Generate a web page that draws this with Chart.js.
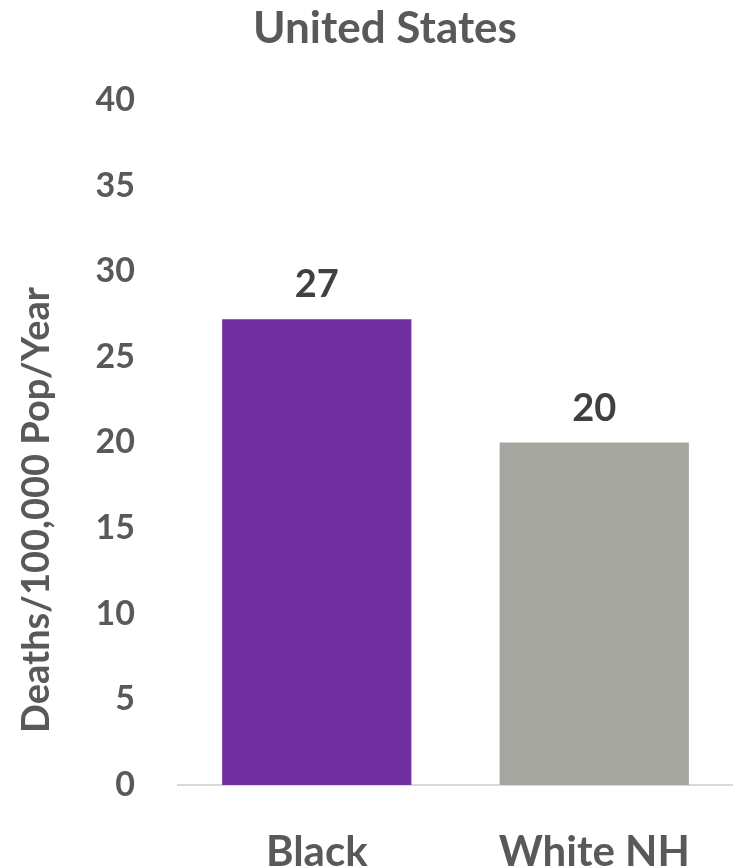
<!DOCTYPE html>
<html>
<head>
<meta charset="utf-8">
<script src="https://cdn.jsdelivr.net/npm/chart.js@4/dist/chart.umd.min.js"></script>
<style>
  body { margin: 0; background: #fff; overflow: hidden; }
  canvas { display: block; }
</style>
</head>
<body>
<canvas id="graph" width="733" height="868"></canvas>
<script>
// ------------ data -----------------------
var categories = ["Black", "White NH"];
var rates = [27.2, 20];
var barColors = ["#7030A0", "#A6A6A0"];
var yTicks = [0, 5, 10, 15, 20, 25, 30, 35, 40];
var chartTitle = "United States";
var yTitle = "Deaths/100,000 Pop/Year";

var textGray = "#595959";
var fontFam = "Lato, 'Open Sans', sans-serif";

// ------------ title, axis title, value labels ----
var extraText = {
  id: "extraText",
  afterDraw: function (chart) {
    var ctx = chart.ctx;
    var meta = chart.getDatasetMeta(0);
    ctx.save();
    ctx.textAlign = "center";
    ctx.textBaseline = "middle";
    ctx.fillStyle = textGray;

    // chart title
    ctx.font = "bold 44px " + fontFam;
    ctx.fillText(chartTitle, 385, 29);

    // y axis title
    ctx.save();
    ctx.translate(37, 510);
    ctx.rotate(-Math.PI / 2);
    ctx.font = "bold 38px " + fontFam;
    ctx.fillText(yTitle, 0, 0);
    ctx.restore();

    // values over bars
    ctx.font = "bold 38px " + fontFam;
    ctx.fillStyle = "#404040";
    ctx.textBaseline = "alphabetic";
    meta.data.forEach(function (bar, i) {
      ctx.fillText(Math.round(rates[i]), bar.x, bar.y - 22);
    });
    ctx.restore();
  },
};

// ------------ chart ----------------------
const ctx = document.getElementById("graph");

const myChart = new Chart(ctx, {
  type: "bar",
  data: {
    labels: categories,
    datasets: [
      {
        data: rates,
        backgroundColor: barColors,
        borderWidth: 0,
        categoryPercentage: 1,
        barPercentage: 0.682,
      },
    ],
  },
  options: {
    responsive: false,
    animation: false,
    layout: { padding: { left: 0, right: -5, top: 100, bottom: 0 } },
    plugins: {
      legend: { display: false },
      tooltip: { enabled: false },
      title: { display: false },
    },
    scales: {
      x: {
        grid: { display: false },
        border: { display: true, color: "#d9d9d9", width: 2 },
        ticks: {
          color: textGray,
          padding: 34,
          font: { family: fontFam, size: 42, weight: "bold" },
        },
        afterFit: function (s) {
          s.height = 83;
        },
      },
      y: {
        min: 0,
        max: 40,
        grid: { display: false },
        border: { display: false },
        afterBuildTicks: function (s) {
          s.ticks = yTicks.map(function (v) {
            return { value: v };
          });
        },
        ticks: {
          color: textGray,
          padding: 35,
          font: { family: fontFam, size: 34, weight: "bold" },
        },
        afterFit: function (s) {
          s.width = 178;
        },
      },
    },
  },
  plugins: [extraText],
});
</script>
</body>
</html>
